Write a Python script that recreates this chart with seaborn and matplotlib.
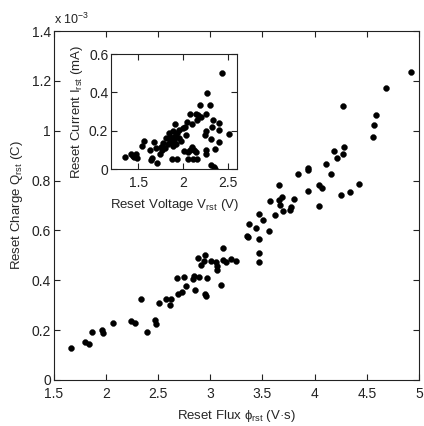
import matplotlib
matplotlib.use("Agg")
import numpy as np
import pandas as pd
import seaborn as sns
import matplotlib.pyplot as plt
import matplotlib.ticker as ticker

sns.set_style("ticks")
plt.rcParams["font.family"] = ["Liberation Sans", "DejaVu Sans"]
plt.rcParams["font.size"] = 10
plt.rcParams["mathtext.fontset"] = "custom"
plt.rcParams["mathtext.rm"] = "Liberation Sans"
plt.rcParams["mathtext.it"] = "Liberation Sans"

# main plot: reset flux (V*s) vs reset charge (units of 1e-3 C)
flux = [1.66, 1.80, 1.84, 1.87, 1.96, 1.97, 2.07, 2.24, 2.28, 2.34, 2.39, 2.47,
        2.48, 2.51, 2.58, 2.61, 2.62, 2.68, 2.69, 2.73, 2.75, 2.77, 2.83, 2.84,
        2.85, 2.88, 2.89, 2.91, 2.94, 2.95, 2.95, 2.96, 2.97, 3.01, 3.05, 3.06,
        3.06, 3.10, 3.12, 3.12, 3.15, 3.20, 3.25, 3.35, 3.36, 3.37, 3.44, 3.47,
        3.47, 3.47, 3.47, 3.51, 3.56, 3.57, 3.62, 3.66, 3.66, 3.67, 3.69, 3.70,
        3.76, 3.77, 3.80, 3.84, 3.94, 3.94, 3.94, 4.04, 4.07, 4.04, 4.11, 4.16,
        4.19, 4.21, 4.25, 4.27, 4.28, 4.27, 4.34, 4.43, 4.56, 4.57, 4.59, 4.68,
        4.92]
charge = [0.129, 0.152, 0.145, 0.192, 0.200, 0.189, 0.229, 0.235, 0.229, 0.323,
          0.194, 0.240, 0.225, 0.310, 0.326, 0.299, 0.323, 0.410, 0.347, 0.353,
          0.414, 0.379, 0.406, 0.417, 0.361, 0.489, 0.414, 0.463, 0.476, 0.503,
          0.346, 0.339, 0.409, 0.479, 0.472, 0.456, 0.442, 0.382, 0.530, 0.480,
          0.472, 0.485, 0.476, 0.576, 0.575, 0.626, 0.610, 0.666, 0.567, 0.509,
          0.472, 0.640, 0.597, 0.717, 0.661, 0.782, 0.724, 0.704, 0.733, 0.677,
          0.684, 0.693, 0.728, 0.825, 0.851, 0.842, 0.760, 0.782, 0.771, 0.699,
          0.866, 0.826, 0.918, 0.892, 0.743, 0.905, 0.933, 1.099, 0.755, 0.787,
          0.977, 1.024, 1.065, 1.172, 1.234]

# inset: reset voltage (V) vs reset current (mA)
volt = [1.35, 1.42, 1.44, 1.46, 1.48, 1.49, 1.54, 1.57, 1.63, 1.64, 1.66, 1.68,
        1.70, 1.71, 1.74, 1.75, 1.77, 1.78, 1.80, 1.81, 1.83, 1.84, 1.85, 1.86,
        1.87, 1.88, 1.88, 1.89, 1.89, 1.90, 1.91, 1.91, 1.92, 1.93, 1.93, 1.95,
        1.96, 1.98, 2.00, 2.01, 2.02, 2.03, 2.04, 2.06, 2.06, 2.08, 2.08, 2.10,
        2.10, 2.11, 2.12, 2.14, 2.14, 2.15, 2.16, 2.17, 2.19, 2.20, 2.24, 2.25,
        2.25, 2.25, 2.26, 2.27, 2.30, 2.31, 2.31, 2.32, 2.33, 2.34, 2.35, 2.36,
        2.40, 2.40, 2.40, 2.43, 2.51]
current = [0.064, 0.080, 0.070, 0.064, 0.080, 0.060, 0.122, 0.146, 0.099, 0.047,
           0.059, 0.139, 0.108, 0.034, 0.081, 0.115, 0.099, 0.134, 0.110, 0.160,
           0.130, 0.186, 0.150, 0.170, 0.140, 0.160, 0.055, 0.120, 0.200, 0.150,
           0.233, 0.175, 0.130, 0.055, 0.190, 0.204, 0.160, 0.146, 0.215, 0.094,
           0.221, 0.177, 0.247, 0.090, 0.055, 0.099, 0.290, 0.233, 0.116, 0.055,
           0.099, 0.290, 0.090, 0.055, 0.256, 0.282, 0.334, 0.270, 0.177, 0.198,
           0.099, 0.081, 0.287, 0.395, 0.334, 0.157, 0.021, 0.221, 0.256, 0.012,
           0.003, 0.104, 0.238, 0.204, 0.139, 0.504, 0.181]

main_df = pd.DataFrame({"flux": flux, "charge": charge})
inset_df = pd.DataFrame({"volt": volt, "current": current})

fig = plt.figure(figsize=(4.24, 4.26), dpi=100)
ax = fig.add_axes([0.127, 0.108, 0.861, 0.819])
axi = fig.add_axes([0.262, 0.603, 0.297, 0.270])


def style_axes(a):
    for s in a.spines.values():
        s.set_visible(True)
        s.set_color("#222222")
        s.set_linewidth(0.8)
    a.tick_params(direction="in", top=True, right=True, length=4, width=0.8,
                  colors="#222222", labelcolor="#222222", pad=2)
    a.tick_params(axis="x", pad=5)


sns.scatterplot(main_df, x="flux", y="charge", ax=ax, color="black", s=18,
                edgecolor="black", linewidth=0.3)
ax.set_xlim(1.5, 5)
ax.set_ylim(0, 1.4)
ax.xaxis.set_major_locator(ticker.MultipleLocator(0.5))
ax.yaxis.set_major_locator(ticker.MultipleLocator(0.2))
ax.xaxis.set_major_formatter(ticker.FuncFormatter(lambda v, p: f"{v:g}"))
ax.yaxis.set_major_formatter(ticker.FuncFormatter(lambda v, p: f"{v:g}"))
ax.set_xlabel("Reset Flux $\\phi_{rst}$ (V·s)", fontsize=9.5, labelpad=5)
ax.set_ylabel("Reset Charge Q$_{rst}$ (C)", fontsize=9.5, labelpad=5)
ax.text(0.0, 1.012, "x 10$^{-3}$", transform=ax.transAxes, fontsize=9,
        ha="left", va="bottom", color="#222222")
style_axes(ax)

sns.scatterplot(inset_df, x="volt", y="current", ax=axi, color="black", s=18,
                edgecolor="black", linewidth=0.3)
axi.set_xlim(1.2, 2.6)
axi.set_ylim(0, 0.6)
axi.set_xticks([1.5, 2, 2.5])
axi.set_yticks([0, 0.2, 0.4, 0.6])
axi.xaxis.set_major_formatter(ticker.FuncFormatter(lambda v, p: f"{v:g}"))
axi.yaxis.set_major_formatter(ticker.FuncFormatter(lambda v, p: f"{v:g}"))
axi.set_xlabel("Reset Voltage V$_{rst}$ (V)", fontsize=9.5, labelpad=5)
axi.set_ylabel("Reset Current I$_{rst}$ (mA)", fontsize=9.5, labelpad=3)
style_axes(axi)

plt.savefig("out.png", dpi=100)
plt.clf()
